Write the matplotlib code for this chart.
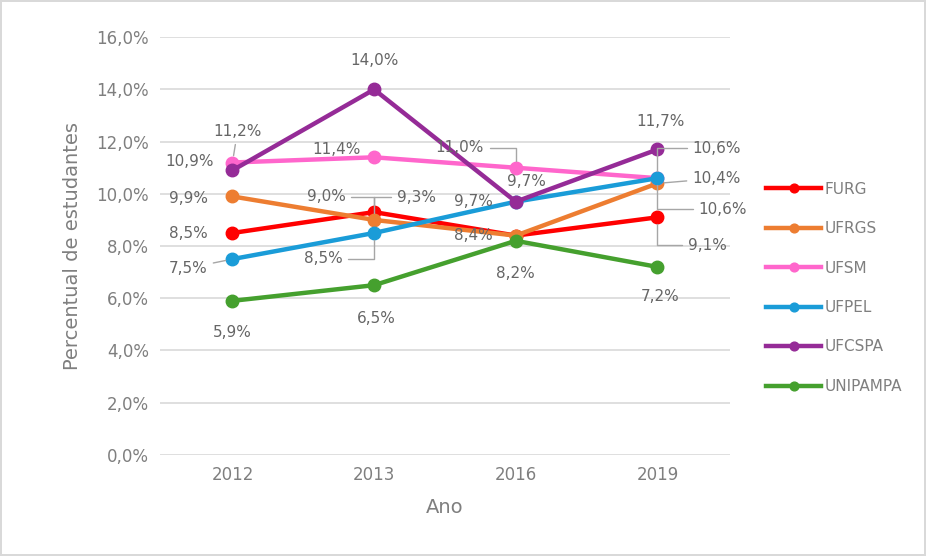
import matplotlib
matplotlib.use("Agg")
import matplotlib.pyplot as plt

anos = ["2012", "2013", "2016", "2019"]
FURG = [8.5, 9.3, 8.4, 9.1]
UFRGS = [9.9, 9.0, 8.4, 10.4]
UFSM = [11.2, 11.4, 11.0, 10.6]
UFPEL = [7.5, 8.5, 9.7, 10.6]
UFCSPA = [10.9, 14.0, 9.7, 11.7]
UNIPAMPA = [5.9, 6.5, 8.2, 7.2]

series = [
    ("FURG", FURG, "#ff0000"),
    ("UFRGS", UFRGS, "#ed7d31"),
    ("UFSM", UFSM, "#ff66cc"),
    ("UFPEL", UFPEL, "#1a9cd8"),
    ("UFCSPA", UFCSPA, "#952b97"),
    ("UNIPAMPA", UNIPAMPA, "#45a02e"),
]

# label offsets in pixels (dx, dy screen-down), leader style
offsets = {
    "FURG": [(-44, 1, None), (42, -15, "angle"), (None, None, None), (50, 28, "angle_v")],
    "UFRGS": [(-44, 2, None), (-48, -23, "angle"), (-42, 0, None), (59, -5, "straight")],
    "UFSM": [(5, -31, "straight"), (-38, -8, None), (-56, -20, "angle"), (59, -30, "angle")],
    "UFPEL": [(-44, 9, "straight"), (-51, 26, "angle"), (-42, 0, None), (65, 31, "angle_v")],
    "UFCSPA": [(-43, -9, None), (0, -29, None), (11, -20, None), (3, -28, None)],
    "UNIPAMPA": [(0, 32, None), (2, 33, None), (0, 33, None), (3, 30, None)],
}

plt.rcParams["font.family"] = ["DejaVu Sans"]
grey = "#7f7f7f"
lab = "#666666"

fig = plt.figure(figsize=(9.26, 5.56), dpi=100)
fig.patch.set_edgecolor("#d9d9d9")
fig.patch.set_linewidth(1.5)
ax = fig.add_axes([0.173, 0.182, 0.615, 0.751])

x = list(range(len(anos)))
for name, vals, col in series:
    ax.plot(x, vals, color=col, lw=3.2, marker="o", ms=9, label=name, zorder=3)
    for i, v in enumerate(vals):
        dx, dy, lead = offsets[name][i]
        if dx is None:
            continue
        txt = f"{v:.1f}%".replace(".", ",")
        ap = None
        if lead == "straight":
            ap = dict(arrowstyle="-", color="#a6a6a6", lw=1, shrinkA=2, shrinkB=5)
        elif lead == "angle":
            ap = dict(arrowstyle="-", color="#a6a6a6", lw=1, shrinkA=2, shrinkB=5,
                      connectionstyle="angle,angleA=0,angleB=90,rad=0")
        elif lead == "angle_v":
            ap = dict(arrowstyle="-", color="#a6a6a6", lw=1, shrinkA=2, shrinkB=5,
                      connectionstyle="angle,angleA=180,angleB=90,rad=0")
        ax.annotate(txt, (i, v), xytext=(dx, -dy), textcoords="offset pixels",
                    ha="center", va="center", fontsize=11, color=lab,
                    arrowprops=ap, zorder=4)

ax.set_xlim(-0.51, 3.51)
ax.set_ylim(0, 16)
ax.set_yticks([0, 2, 4, 6, 8, 10, 12, 14, 16])
ax.set_yticklabels([f"{t:.1f}%".replace(".", ",") for t in range(0, 17, 2)])
ax.set_xticks(x)
ax.set_xticklabels(anos)
ax.tick_params(length=0, labelsize=12, colors=grey, pad=8)
ax.grid(axis="y", color="#d9d9d9", lw=1.2)
ax.set_axisbelow(True)
for s in ax.spines.values():
    s.set_visible(False)
ax.set_ylabel("Percentual de estudantes", fontsize=14, color=grey, labelpad=10)
ax.set_xlabel("Ano", fontsize=14, color=grey, labelpad=10)

leg = ax.legend(loc="center left", bbox_to_anchor=(1.04, 0.40), frameon=False,
                fontsize=11, handlelength=3.6, labelspacing=1.6, handletextpad=0.2,
                markerscale=0.7, labelcolor=grey)

fig.savefig("out.png", dpi=100)
